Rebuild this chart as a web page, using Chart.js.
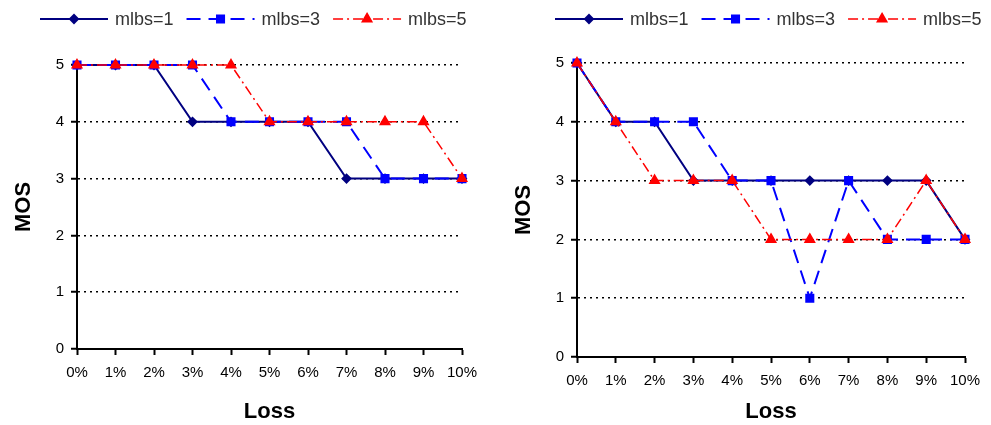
<!DOCTYPE html>
<html lang="en">
<head>
<meta charset="UTF-8">
<title>MOS vs Loss</title>
<script src="https://cdn.jsdelivr.net/npm/chart.js"></script>
<style>
  body { margin: 0; background: #fff; }
  .box { position: absolute; top: 0; height: 425px; }
</style>
</head>
<body>
<div class="box" style="left:0;width:490px"><canvas id="leftChart"></canvas></div>
<div class="box" style="left:500px;width:491px"><canvas id="rightChart"></canvas></div>
<script>
// data
const lossLabels = ['0%', '1%', '2%', '3%', '4%', '5%', '6%', '7%', '8%', '9%', '10%'];
const mosTicks = [0, 1, 2, 3, 4, 5];
const seriesNames = ['mlbs=1', 'mlbs=3', 'mlbs=5'];

const leftMlbs1 = [5, 5, 5, 4, 4, 4, 4, 3, 3, 3, 3];
const leftMlbs3 = [5, 5, 5, 5, 4, 4, 4, 4, 3, 3, 3];
const leftMlbs5 = [5, 5, 5, 5, 5, 4, 4, 4, 4, 4, 3];

const rightMlbs1 = [5, 4, 4, 3, 3, 3, 3, 3, 3, 3, 2];
const rightMlbs3 = [5, 4, 4, 4, 3, 3, 1, 3, 2, 2, 2];
const rightMlbs5 = [5, 4, 3, 3, 3, 2, 2, 2, 2, 3, 2];

const family = '"Liberation Sans", Arial, sans-serif';

// legend drawn as a line sample with the marker in the middle
const lineLegend = {
  id: 'lineLegend',
  afterDraw(chart, args, opts) {
    const ctx = chart.ctx;
    ctx.save();
    ctx.font = '18px ' + family;
    ctx.textBaseline = 'middle';
    let x = opts.x;
    const y = opts.y;
    chart.data.datasets.forEach(ds => {
      ctx.strokeStyle = ds.borderColor;
      ctx.lineWidth = ds.borderWidth;
      ctx.setLineDash(ds.borderDash || []);
      ctx.beginPath();
      ctx.moveTo(x, y);
      ctx.lineTo(x + 68, y);
      ctx.stroke();
      ctx.setLineDash([]);
      ctx.fillStyle = ds.pointBackgroundColor;
      ctx.strokeStyle = ds.pointBorderColor;
      Chart.helpers.drawPoint(ctx, {pointStyle: ds.pointStyle, radius: ds.pointRadius, borderWidth: 1, rotation: 0}, x + 34, y);
      ctx.fillStyle = '#333';
      ctx.fillText(ds.label, x + 75, y + 1);
      x += 75 + ctx.measureText(ds.label).width + 13;
    });
    ctx.restore();
  }
};

function makeDatasets(a, b, c) {
  return [
    {label: seriesNames[0], data: a, borderColor: '#000080', borderWidth: 2, borderDash: [],
     pointStyle: 'rectRot', pointRadius: 4, pointBackgroundColor: '#000080', pointBorderColor: '#000080', order: 3, clip: false},
    {label: seriesNames[1], data: b, borderColor: '#0000FF', borderWidth: 2, borderDash: [14, 8],
     pointStyle: 'rect', pointRadius: 5, pointBackgroundColor: '#0000FF', pointBorderColor: '#0000FF', order: 2, clip: false},
    {label: seriesNames[2], data: c, borderColor: '#FF0000', borderWidth: 1.5, borderDash: [10, 4, 2, 4],
     pointStyle: 'triangle', pointRadius: 5.5, pointBackgroundColor: '#FF0000', pointBorderColor: '#FF0000', order: 1, clip: false}
  ];
}

function makeChart(id, datasets, padTop, padRight, xHeight, legendX) {
  return new Chart(document.getElementById(id), {
    type: 'line',
    data: {labels: lossLabels, datasets: datasets},
    plugins: [lineLegend],
    options: {
      responsive: true,
      maintainAspectRatio: false,
      animation: false,
      layout: {padding: {top: padTop, right: padRight, left: 0, bottom: 0}},
      elements: {line: {tension: 0, fill: false}},
      plugins: {
        legend: {display: false},
        tooltip: {enabled: false},
        lineLegend: {x: legendX, y: 19}
      },
      scales: {
        x: {
          offset: false,
          grid: {drawOnChartArea: false, drawTicks: true, tickLength: 6, tickColor: '#000', tickWidth: 2},
          border: {color: '#000', width: 2},
          ticks: {font: {size: 15, family: family}, color: '#000', padding: 9, maxRotation: 0, autoSkip: false},
          title: {display: true, text: 'Loss', color: '#000', font: {size: 22, weight: 'bold', family: family}, padding: {top: 0, bottom: 0}},
          afterFit(scale) { scale.height = xHeight; }
        },
        y: {
          min: 0,
          max: 5,
          afterBuildTicks(scale) { scale.ticks = mosTicks.map(v => ({value: v})); },
          grid: {color: '#000', lineWidth: 1.5, drawTicks: true, tickLength: 6,
                 tickColor: '#000', tickWidth: 2, tickBorderDash: []},
          border: {color: '#000', width: 2, dash: [2, 4]},
          ticks: {font: {size: 15, family: family}, color: '#000', padding: 7},
          title: {display: true, text: 'MOS', color: '#000', font: {size: 22, weight: 'bold', family: family}, padding: {top: 11, bottom: 0}},
          afterFit(scale) { scale.width = 77; }
        }
      }
    }
  });
}

makeChart('leftChart', makeDatasets(leftMlbs1, leftMlbs3, leftMlbs5), 65, 28, 76, 40);
makeChart('rightChart', makeDatasets(rightMlbs1, rightMlbs3, rightMlbs5), 63, 26, 68, 55);
</script>
</body>
</html>
